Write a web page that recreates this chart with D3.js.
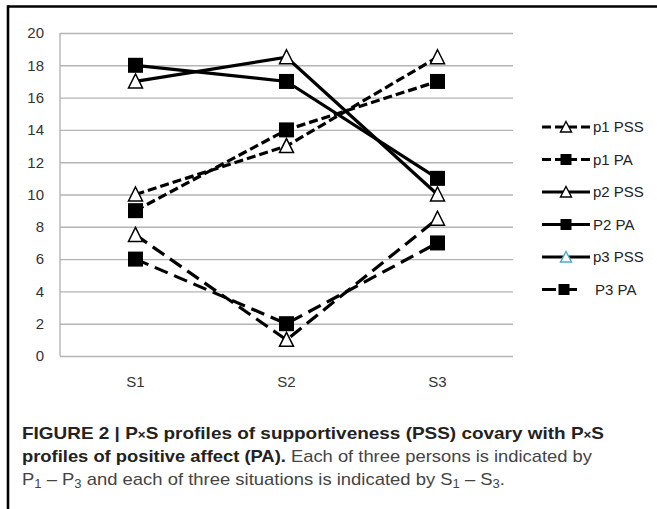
<!DOCTYPE html>
<html>
<head>
<meta charset="utf-8">
<script src="https://cdn.jsdelivr.net/npm/d3@7"></script>
<style>
  body { margin: 0; background: #fff; }
  svg { display: block; }
</style>
</head>
<body>
<div id="chart-area"></div>
<script>
// DATA
var situations = ["S1", "S2", "S3"];
var yTicks = [0, 2, 4, 6, 8, 10, 12, 14, 16, 18, 20];
var seriesNames = ["p1 PSS", "p1 PA", "p2 PSS", "P2 PA", "p3 PSS", "P3 PA"];
var p1PSS = [10, 13, 18.5];
var p1PA  = [9, 14, 17];
var p2PSS = [17, 18.5, 10];
var p2PA  = [18, 17, 11];
var p3PSS = [7.5, 1, 8.5];
var p3PA  = [6, 2, 7];
var seriesValues = [p1PSS, p1PA, p2PSS, p2PA, p3PSS, p3PA];

// STYLES (per series, kept apart from the values)
var styles = [
  { dash: "9,4",  marker: "tri" },
  { dash: "9,4",  marker: "sq" },
  { dash: null,   marker: "tri" },
  { dash: null,   marker: "sq" },
  { dash: "14,7", marker: "tri", legendDash: null, legendStroke: "#4bacc6" },
  { dash: "14,7", marker: "sq" }
];

var W = 657, H = 509;
var margin = { left: 60, top: 33 };
var width = 453, height = 323;

var svg = d3.select("#chart-area").append("svg")
    .attr("width", W)
    .attr("height", H);

// FRAME
svg.append("line").attr("x1", 8).attr("x2", W).attr("y1", 6.5).attr("y2", 6.5)
    .attr("stroke", "#000").attr("stroke-width", 2.6);
svg.append("line").attr("x1", 8).attr("x2", 8).attr("y1", 5.2).attr("y2", H)
    .attr("stroke", "#000").attr("stroke-width", 2.6);

var g = svg.append("g")
    .attr("transform", "translate(" + margin.left + "," + margin.top + ")");

// SCALES
var x = d3.scaleBand().domain(situations).range([0, width]);
var y = d3.scaleLinear().domain([0, 20]).range([height, 0]);
var cx = function(s) { return x(s) + x.bandwidth() / 2; };

// GRID
var grid = g.append("g")
    .call(d3.axisLeft(y).tickValues(yTicks).tickSize(-width).tickFormat(""));
grid.select(".domain").remove();
grid.selectAll("line").attr("stroke", "#b4b4b4").attr("stroke-width", 1.4);

g.append("line").attr("x1", 0).attr("x2", 0).attr("y1", 0).attr("y2", height)
    .attr("stroke", "#b4b4b4").attr("stroke-width", 1.4);

// Y AXIS LABELS
var yAxis = g.append("g")
    .call(d3.axisLeft(y).tickValues(yTicks).tickSize(0).tickPadding(16));
yAxis.select(".domain").remove();
yAxis.selectAll("text")
    .attr("font-family", "Liberation Sans, Arial, sans-serif")
    .attr("font-size", "15px")
    .attr("fill", "#333");

// X AXIS LABELS
var xAxis = g.append("g")
    .attr("transform", "translate(0," + height + ")")
    .call(d3.axisBottom(x).tickSize(0).tickPadding(20));
xAxis.select(".domain").remove();
xAxis.selectAll("text")
    .attr("font-family", "Liberation Sans, Arial, sans-serif")
    .attr("font-size", "15px")
    .attr("fill", "#333");

// MARKERS
function drawMarker(sel, type, stroke) {
  if (type === "sq") {
    sel.append("rect")
      .attr("x", -7.5).attr("y", -7.5)
      .attr("width", 15).attr("height", 15)
      .attr("fill", "#000");
  } else {
    sel.append("path")
      .attr("d", "M0,-7.5L7,6.5L-7,6.5Z")
      .attr("fill", "#fff")
      .attr("stroke", stroke || "#000")
      .attr("stroke-width", 1.5)
      .attr("stroke-linejoin", "miter");
  }
}

var line = d3.line()
    .x(function(d, i) { return cx(situations[i]); })
    .y(function(d) { return y(d); });

seriesValues.forEach(function(vals, k) {
  var st = styles[k];
  var sg = g.append("g");
  sg.append("path")
    .attr("d", line(vals))
    .attr("fill", "none")
    .attr("stroke", "#000")
    .attr("stroke-width", 3.2)
    .attr("stroke-dasharray", st.dash);
  vals.forEach(function(v, i) {
    var m = sg.append("g")
      .attr("transform", "translate(" + cx(situations[i]) + "," + y(v) + ")");
    drawMarker(m, st.marker);
  });
});

// LEGEND
var legend = svg.append("g").attr("transform", "translate(542,127)");
seriesNames.forEach(function(name, k) {
  var st = styles[k];
  var row = legend.append("g").attr("transform", "translate(0," + (k * 32.5) + ")");
  var dash = ("legendDash" in st) ? st.legendDash : st.dash;
  var x2 = (k === 5) ? 40 : 48;
  row.append("line")
    .attr("x1", 0).attr("x2", x2).attr("y1", 0).attr("y2", 0)
    .attr("stroke", "#000").attr("stroke-width", 3.2)
    .attr("stroke-dasharray", dash);
  var m = row.append("g").attr("transform", "translate(" + (k === 5 ? 22 : 24) + ",0)");
  if (st.marker === "sq") {
    m.append("rect").attr("x", -5.5).attr("y", -5.5).attr("width", 11).attr("height", 11).attr("fill", "#000");
  } else {
    m.append("path").attr("d", "M0,-5.5L5.5,5L-5.5,5Z")
      .attr("fill", "#fff").attr("stroke", st.legendStroke || "#000").attr("stroke-width", 1.4);
  }
  row.append("text")
    .attr("x", k === 5 ? 53 : 51)
    .attr("y", 5)
    .attr("font-family", "Liberation Sans, Arial, sans-serif")
    .attr("font-size", "15px")
    .attr("fill", "#222")
    .text(name);
});

// CAPTION
var capFont = "Liberation Sans, Arial, sans-serif";
var cap1 = svg.append("text")
    .attr("x", 22).attr("y", 439)
    .attr("font-family", capFont).attr("font-size", "17px")
    .attr("font-weight", "bold").attr("fill", "#222")
    .attr("textLength", 582).attr("lengthAdjust", "spacingAndGlyphs");
cap1.append("tspan").text("FIGURE 2 | P");
cap1.append("tspan").attr("font-size", "12px").text("\u00d7");
cap1.append("tspan").text("S profiles of supportiveness (PSS) covary with P");
cap1.append("tspan").attr("font-size", "12px").text("\u00d7");
cap1.append("tspan").text("S");

var cap2 = svg.append("text")
    .attr("x", 22).attr("y", 462)
    .attr("font-family", capFont).attr("font-size", "17px")
    .attr("fill", "#444")
    .attr("textLength", 570).attr("lengthAdjust", "spacingAndGlyphs");
cap2.append("tspan").attr("font-weight", "bold").attr("fill", "#222")
    .text("profiles of positive affect (PA).");
cap2.append("tspan").text(" Each of three persons is indicated by");

var cap3 = svg.append("text")
    .attr("x", 22).attr("y", 485)
    .attr("font-family", capFont).attr("font-size", "17px")
    .attr("fill", "#444")
    .attr("textLength", 483).attr("lengthAdjust", "spacingAndGlyphs");
[["P", false], ["1", true], [" \u2013 P", false], ["3", true],
 [" and each of three situations is indicated by S", false], ["1", true],
 [" \u2013 S", false], ["3", true], [".", false]].forEach(function(p, i) {
  var t = cap3.append("tspan").text(p[0]);
  if (p[1]) t.attr("font-size", "12px").attr("dy", 3);
  else if (i > 0) t.attr("dy", -3);
});
</script>
</body>
</html>
